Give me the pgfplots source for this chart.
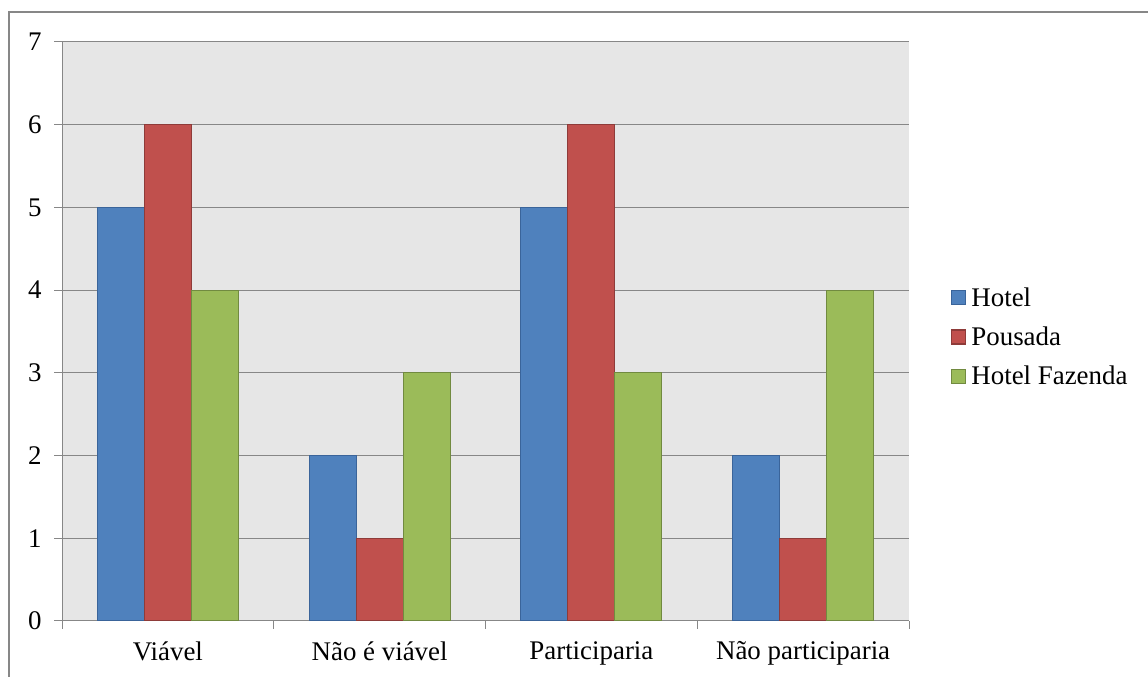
\documentclass[border=0pt]{standalone}
\usepackage{pgfplots}
\pgfplotsset{compat=1.18}
\usepackage{fontspec}
\setmainfont{Liberation Serif}
\definecolor{cBlue}{HTML}{4F81BD}
\definecolor{cBlueE}{HTML}{3A649A}
\definecolor{cRed}{HTML}{C0504D}
\definecolor{cRedE}{HTML}{8E3B39}
\definecolor{cGreen}{HTML}{9BBB59}
\definecolor{cGreenE}{HTML}{718A40}
\definecolor{bg}{HTML}{E6E6E6}
\definecolor{ln}{HTML}{878787}
\begin{document}
\begin{tikzpicture}[x=1bp,y=1bp]
\path[use as bounding box] (0,0) rectangle (1148,677);
\draw[ln,line width=1.5bp] (9,0) -- (9,665) -- (1148,665);
\begin{axis}[
  at={(62bp,56bp)}, anchor=south west,
  scale only axis, width=847bp, height=579bp,
  ybar=0pt, bar width=47bp,
  xmin=-0.5, xmax=3.5, ymin=0, ymax=7,
  axis x line=bottom, axis y line=left,
  axis line style={ln, line width=1bp, -},
  axis background/.style={fill=bg},
  xtick={0,1,2,3},
  xticklabels={Viável, Não é viável, Participaria, Não participaria},
  major x tick style={draw=none},
  minor xtick={-0.5,0.5,1.5,2.5,3.5},
  minor x tick style={ln, line width=1bp},
  ytick={0,1,...,7},
  y tick style={ln, line width=1bp},
  tick align=outside,
  major tick length=8bp, minor tick length=8bp,
  ymajorgrids, grid style={ln, line width=1bp},
  /pgf/number format/assume math mode=true,
  ticklabel style={font=\fontsize{27}{32}\selectfont},
  xticklabel style={yshift=-9bp},
  yticklabel style={xshift=-9bp},
  legend style={draw=none, fill=none, at={(1.0496,0.4905)}, anchor=west,
    font=\fontsize{27}{32}\selectfont, row sep=15bp, inner sep=0pt,
    legend cell align=left, nodes={inner xsep=5bp}},
  legend image code/.code={\draw[#1, line width=1.2bp] (0bp,-7bp) rectangle (14bp,7bp);},
]
\addplot[fill=cBlue, draw=cBlueE, line width=1bp] coordinates {(0,5) (1,2) (2,5) (3,2)};
\addplot[fill=cRed, draw=cRedE, line width=1bp] coordinates {(0,6) (1,1) (2,6) (3,1)};
\addplot[fill=cGreen, draw=cGreenE, line width=1bp] coordinates {(0,4) (1,3) (2,3) (3,4)};
\legend{Hotel, Pousada, Hotel Fazenda}
\end{axis}
\end{tikzpicture}
\end{document}
